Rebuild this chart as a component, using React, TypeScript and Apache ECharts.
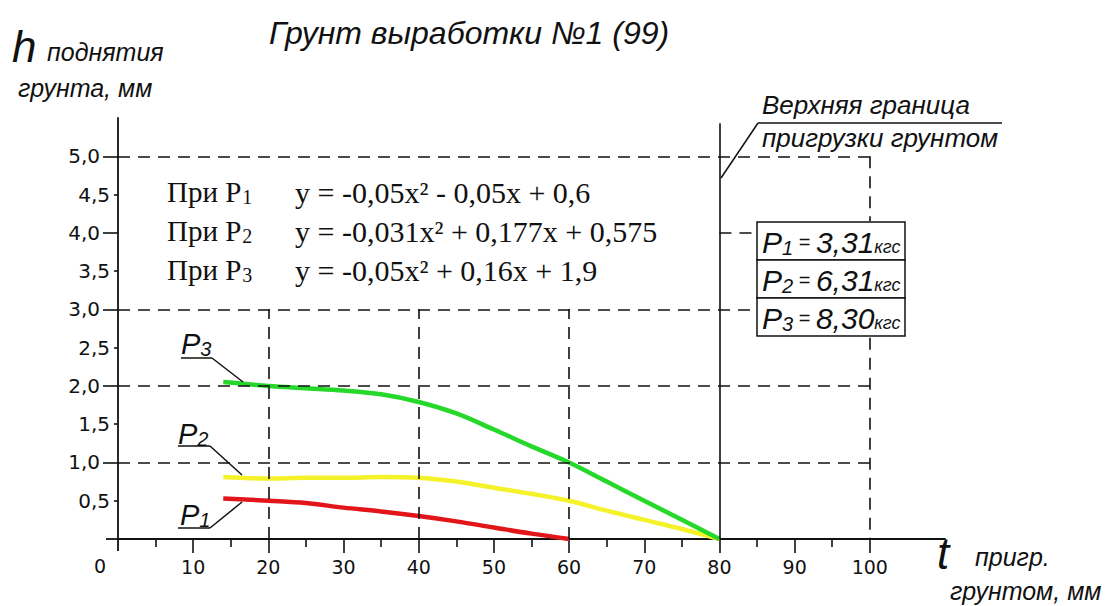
import React, { useEffect, useRef } from "react";
import * as echarts from "echarts";

const T_P3 = [14, 20, 25, 30, 35, 40, 45, 50, 55, 60, 65, 70, 75, 80];
const V_P3 = [2.05, 2.0, 1.97, 1.94, 1.89, 1.79, 1.64, 1.43, 1.21, 1.0, 0.75, 0.5, 0.25, 0];
const T_P2 = [14, 20, 25, 30, 35, 40, 45, 50, 55, 60, 65, 70, 75, 80];
const V_P2 = [0.81, 0.79, 0.8, 0.8, 0.81, 0.8, 0.75, 0.67, 0.59, 0.5, 0.37, 0.25, 0.13, 0];
const T_P1 = [14, 20, 25, 30, 35, 40, 45, 50, 55, 60];
const V_P1 = [0.53, 0.5, 0.47, 0.41, 0.36, 0.3, 0.23, 0.15, 0.07, 0];

const X_MAJOR = [10, 20, 30, 40, 50, 60, 70, 80, 90, 100];
const X_MINOR = [5, 15, 25, 35, 45, 55, 65, 75, 85, 95];
const Y_MAJOR = [1, 2, 3, 4, 5];
const Y_MINOR = [0.5, 1.5, 2.5, 3.5, 4.5];

const EQUATIONS = [
  { p: "1", eq: "y = -0,05x² - 0,05x + 0,6" },
  { p: "2", eq: "y = -0,031x² + 0,177x + 0,575" },
  { p: "3", eq: "y = -0,05x² + 0,16x + 1,9" },
];
const LOADS = [
  { p: "1", v: "3,31" },
  { p: "2", v: "6,31" },
  { p: "3", v: "8,30" },
];

const pairs = (t: number[], v: number[]) => t.map((x, i) => [x, v[i]]);
const fmt = (v: number) => v.toFixed(1).replace(".", ",");

export default function App() {
  const ref = useRef<HTMLDivElement>(null);
  useEffect(() => {
    if (!ref.current) return;
    const chart = echarts.init(ref.current, null, { renderer: "svg" });
    const dash = { color: "#111", width: 1.6, type: [12, 8] as any };
    const ml = (a: number[], b: number[], style: any = dash) => [
      { coord: a, lineStyle: style },
      { coord: b },
    ];
    const sansI = { fontFamily: "Liberation Sans", fontStyle: "italic", fill: "#111" };
    const line = (x1: number, y1: number, x2: number, y2: number, w = 1.5) => ({
      type: "line",
      shape: { x1, y1, x2, y2 },
      style: { stroke: "#111", lineWidth: w },
      z: 100,
    });
    const graphic: any[] = [
      { type: "text", x: 469, y: 33, style: { ...sansI, text: "Грунт выработки №1 (99)", fontSize: 32, align: "center", verticalAlign: "middle" } },
      { type: "text", x: 12, y: 46, style: { ...sansI, text: "h", fontSize: 44, verticalAlign: "middle" } },
      { type: "text", x: 47, y: 52, style: { ...sansI, text: "поднятия", fontSize: 25, verticalAlign: "middle" } },
      { type: "text", x: 18, y: 88, style: { ...sansI, text: "грунта, мм", fontSize: 25, verticalAlign: "middle" } },
      { type: "text", x: 937, y: 553, style: { ...sansI, text: "t", fontSize: 44, verticalAlign: "middle" } },
      { type: "text", x: 975, y: 557, style: { ...sansI, text: "пригр.", fontSize: 25, verticalAlign: "middle" } },
      { type: "text", x: 950, y: 591, style: { ...sansI, text: "грунтом, мм", fontSize: 25, verticalAlign: "middle" } },
      { type: "text", x: 100, y: 566, style: { text: "0", fontFamily: "DejaVu Sans", fontSize: 19, fill: "#111", align: "center", verticalAlign: "middle" } },
      { type: "text", x: 762, y: 105, style: { ...sansI, text: "Верхняя граница", fontSize: 26, verticalAlign: "middle" } },
      { type: "text", x: 762, y: 138, style: { ...sansI, text: "пригрузки грунтом", fontSize: 26, verticalAlign: "middle" } },
      line(758, 123, 1002, 123),
      line(721, 178, 758, 123),
      line(106, 539, 118, 539, 1.8),
      line(118, 539, 118, 551, 1.8),
    ];
    EQUATIONS.forEach((e, i) => {
      const y = 192 + i * 39;
      graphic.push({
        type: "text", x: 167, y,
        style: {
          text: `{a|При P}{b|${e.p}}`, verticalAlign: "middle",
          rich: {
            a: { fontFamily: "Liberation Serif", fontSize: 29, fill: "#111", lineHeight: 32 },
            b: { fontFamily: "Liberation Serif", fontSize: 20, fill: "#111", lineHeight: 32, verticalAlign: "bottom", padding: [0, 0, 1, 1] },
          },
        },
      });
      graphic.push({
        type: "text", x: 295, y,
        style: { text: e.eq, fontFamily: "Liberation Serif", fontSize: 30, fill: "#111", verticalAlign: "middle" },
      });
    });
    LOADS.forEach((l, i) => {
      const y0 = 222 + i * 38;
      graphic.push({ type: "rect", shape: { x: 757, y: y0, width: 148, height: 38 }, style: { fill: "#fff", stroke: "#111", lineWidth: 1.5 }, z: 100 });
      graphic.push({
        type: "text", x: 762, y: y0 + 20, z: 101,
        style: {
          text: `{a|P}{b|${l.p}}{c| = }{a|${l.v}}{d|кгс}`, verticalAlign: "middle",
          rich: {
            a: { ...sansI, fontSize: 30, lineHeight: 32 },
            b: { ...sansI, fontSize: 20, lineHeight: 32, verticalAlign: "bottom" },
            c: { fontFamily: "Liberation Sans", fontSize: 20, fill: "#111", lineHeight: 32 },
            d: { ...sansI, fontSize: 18, lineHeight: 32, verticalAlign: "bottom", padding: [0, 0, 2, 0] },
          },
        },
      });
    });
    const curveLabels = [
      { p: "3", tx: 181, ty: 344, ux1: 181, ux2: 212, uy: 358, lx: 243, ly: 382 },
      { p: "2", tx: 178, ty: 434, ux1: 178, ux2: 210, uy: 446, lx: 242, ly: 475 },
      { p: "1", tx: 180, ty: 515, ux1: 178, ux2: 210, uy: 528, lx: 242, ly: 502 },
    ];
    curveLabels.forEach((c) => {
      graphic.push({
        type: "text", x: c.tx, y: c.ty,
        style: {
          text: `{a|P}{b|${c.p}}`, verticalAlign: "middle",
          rich: {
            a: { ...sansI, fontSize: 29, lineHeight: 30 },
            b: { ...sansI, fontSize: 20, lineHeight: 30, verticalAlign: "bottom" },
          },
        },
      });
      graphic.push(line(c.ux1, c.uy, c.ux2, c.uy));
      graphic.push(line(c.ux2, c.uy, c.lx, c.ly));
    });

    const axisLbl = { fontFamily: "DejaVu Sans", fontSize: 19, color: "#111" };
    const yLbl = { fontFamily: "DejaVu Sans", fontSize: 20, color: "#111" };
    const option: any = {
      animation: false,
      grid: { left: 118, top: 118, width: 827, height: 421, containLabel: false },
      xAxis: [
        {
          type: "value", min: 0, max: 110, position: "bottom",
          axisLine: { show: true, onZero: false, lineStyle: { color: "#111", width: 1.8 } },
          axisTick: { show: true, inside: false, length: 14, customValues: X_MAJOR, lineStyle: { color: "#111", width: 1.6 } },
          axisLabel: { show: true, customValues: X_MAJOR, margin: 18, formatter: (v: number) => String(v), ...axisLbl },
          splitLine: { show: false },
        },
        {
          type: "value", min: 0, max: 110, position: "bottom",
          axisLine: { show: false, onZero: false },
          axisTick: { show: true, inside: false, length: 8, customValues: X_MINOR, lineStyle: { color: "#111", width: 1.6 } },
          axisLabel: { show: false },
          splitLine: { show: false },
        },
      ],
      yAxis: [
        {
          type: "value", min: 0, max: 5.5, position: "left",
          axisLine: { show: true, onZero: false, lineStyle: { color: "#111", width: 1.8 } },
          axisTick: { show: true, inside: false, length: 15, customValues: Y_MAJOR, lineStyle: { color: "#111", width: 1.6 } },
          axisLabel: { show: true, customValues: Y_MAJOR, margin: 18, formatter: fmt, ...yLbl },
          splitLine: { show: false },
        },
        {
          type: "value", min: 0, max: 5.5, position: "left",
          axisLine: { show: false, onZero: false },
          axisTick: { show: true, inside: false, length: 4, customValues: Y_MINOR, lineStyle: { color: "#111", width: 1.6 } },
          axisLabel: { show: true, customValues: Y_MINOR, margin: 8, formatter: fmt, ...yLbl },
          splitLine: { show: false },
        },
      ],
      series: [
        {
          type: "line", name: "grid", data: [], xAxisIndex: 0, yAxisIndex: 0, silent: true,
          markLine: {
            silent: true, symbol: ["none", "none"], label: { show: false }, animation: false,
            data: [
              ml([0, 5], [100, 5]),
              ml([0, 2], [100, 2]),
              ml([0, 1], [100, 1]),
              ml([0, 3], [85, 3]),
              ml([80, 4], [85, 4]),
              ml([20, 0], [20, 3]),
              ml([40, 0], [40, 3]),
              ml([60, 0], [60, 3]),
              ml([100, 5], [100, 4.15]),
              ml([100, 2.63], [100, 0]),
              ml([80, 0], [80, 5.43], { color: "#111", width: 1.6, type: "solid" }),
            ],
          },
        },
        { type: "line", name: "P1", data: pairs(T_P1, V_P1), smooth: 0.35, showSymbol: false, lineStyle: { color: "#e2161a", width: 4.5 }, z: 3 },
        { type: "line", name: "P2", data: pairs(T_P2, V_P2), smooth: 0.35, showSymbol: false, lineStyle: { color: "#f6f22a", width: 4.5 }, z: 3 },
        { type: "line", name: "P3", data: pairs(T_P3, V_P3), smooth: 0.35, showSymbol: false, lineStyle: { color: "#25d82a", width: 4.5 }, z: 4 },
      ],
      graphic,
    };
    chart.setOption(option);
    return () => chart.dispose();
  }, []);
  return <div ref={ref} style={{ position: "absolute", left: 0, top: 0, width: 1113, height: 606, background: "#fff" }} />;
}
